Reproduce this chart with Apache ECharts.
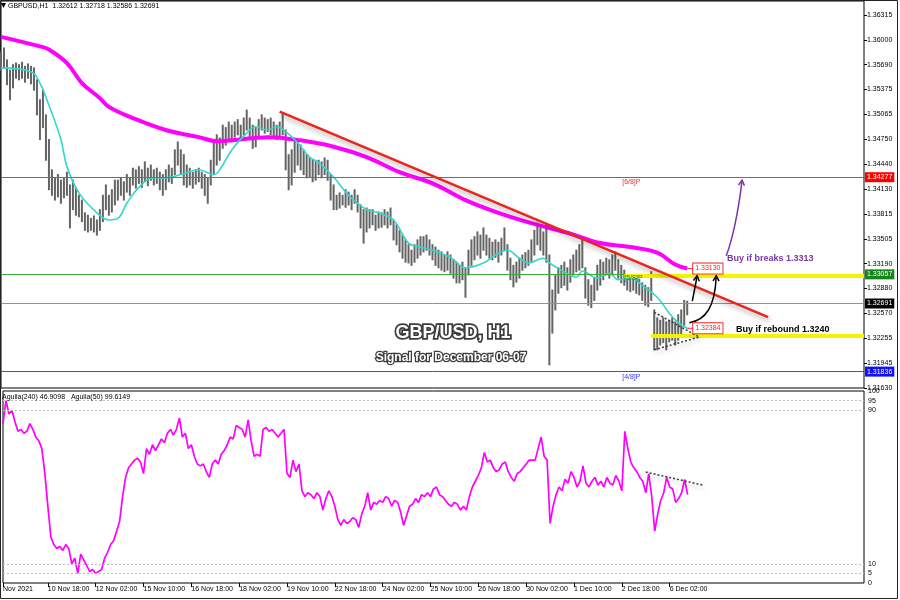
<!DOCTYPE html>
<html><head><meta charset="utf-8">
<script src="https://cdn.jsdelivr.net/npm/echarts@6/dist/echarts.min.js"></script>
<style>html,body{margin:0;padding:0;background:#fff}#c{width:900px;height:600px}</style>
</head><body><div id="c"></div>
<script>
// ---- data (2-hour slots) ----
const barHigh = [
1.3585,1.3590,1.3575,1.3562,1.3569,1.3571,1.3569,1.3572,1.3567,1.3570,
1.3567,1.3565,1.3550,1.3525,1.3537,1.3506,1.3475,1.3437,1.3427,1.3431,
1.3424,1.3427,1.3434,1.3418,1.3424,1.3415,1.3405,1.3399,1.3383,1.3380,
1.3376,1.3379,1.3374,1.3387,1.3405,1.3418,1.3405,1.3412,1.3424,1.3424,
1.3427,1.3422,1.3431,1.3427,1.3439,1.3437,1.3441,1.3437,1.3447,1.3439,
1.3443,1.3437,1.3439,1.3434,1.3431,1.3437,1.3443,1.3439,1.3462,1.3472,
1.3462,1.3456,1.3443,1.3439,1.3434,1.3437,1.3439,1.3434,1.3431,1.3427,
1.3449,1.3475,1.3481,1.3477,1.3493,1.3490,1.3497,1.3493,1.3497,1.3500,
1.3493,1.3502,1.3512,1.3502,1.3493,1.3490,1.3500,1.3506,1.3502,1.3500,
1.3502,1.3497,1.3493,1.3497,1.3508,1.3487,1.3456,1.3462,1.3475,1.3475,
1.3468,1.3462,1.3456,1.3452,1.3449,1.3447,1.3449,1.3447,1.3452,1.3449,
1.3431,1.3418,1.3405,1.3408,1.3405,1.3412,1.3409,1.3405,1.3412,1.3405,
1.3393,1.3387,1.3389,1.3387,1.3387,1.3380,1.3384,1.3383,1.3387,1.3384,
1.3389,1.3374,1.3368,1.3361,1.3355,1.3349,1.3343,1.3336,1.3343,1.3349,
1.3353,1.3353,1.3355,1.3349,1.3343,1.3340,1.3336,1.3334,1.3330,1.3334,
1.3330,1.3324,1.3321,1.3317,1.3321,1.3314,1.3336,1.3349,1.3353,1.3359,
1.3355,1.3364,1.3355,1.3351,1.3346,1.3349,1.3346,1.3351,1.3364,1.3343,
1.3326,1.3317,1.3321,1.3326,1.3330,1.3333,1.3336,1.3349,1.3361,1.3370,
1.3364,1.3359,1.3368,1.3330,1.3286,1.3305,1.3314,1.3317,1.3321,1.3314,
1.3324,1.3330,1.3336,1.3343,1.3353,1.3314,1.3299,1.3292,1.3301,1.3317,
1.3324,1.3321,1.3326,1.3324,1.3330,1.3334,1.3324,1.3317,1.3311,1.3305,
1.3301,1.3305,1.3301,1.3299,1.3295,1.3292,1.3289,1.3309,1.3261,1.3251,
1.3248,1.3251,1.3246,1.3248,1.3251,1.3246,1.3255,1.3261,1.3273,1.3272];
const barLow = [
1.3562,1.3565,1.3544,1.3525,1.3540,1.3552,1.3550,1.3552,1.3547,1.3552,
1.3545,1.3537,1.3506,1.3475,1.3490,1.3449,1.3412,1.3405,1.3399,1.3403,
1.3395,1.3402,1.3405,1.3364,1.3387,1.3380,1.3378,1.3372,1.3361,1.3359,
1.3361,1.3359,1.3355,1.3361,1.3372,1.3387,1.3380,1.3384,1.3393,1.3399,
1.3405,1.3399,1.3409,1.3405,1.3418,1.3414,1.3420,1.3415,1.3422,1.3417,
1.3424,1.3418,1.3420,1.3412,1.3405,1.3412,1.3422,1.3420,1.3431,1.3443,
1.3431,1.3418,1.3415,1.3418,1.3414,1.3419,1.3422,1.3414,1.3405,1.3395,
1.3418,1.3431,1.3443,1.3449,1.3464,1.3468,1.3475,1.3472,1.3478,1.3481,
1.3475,1.3481,1.3487,1.3475,1.3464,1.3466,1.3477,1.3487,1.3483,1.3485,
1.3481,1.3478,1.3475,1.3477,1.3481,1.3437,1.3412,1.3418,1.3434,1.3443,
1.3437,1.3431,1.3427,1.3428,1.3422,1.3424,1.3431,1.3427,1.3431,1.3424,
1.3399,1.3387,1.3387,1.3389,1.3393,1.3390,1.3393,1.3387,1.3395,1.3384,
1.3364,1.3345,1.3359,1.3364,1.3368,1.3361,1.3364,1.3365,1.3368,1.3364,
1.3368,1.3349,1.3343,1.3334,1.3326,1.3321,1.3320,1.3317,1.3321,1.3326,
1.3330,1.3334,1.3336,1.3330,1.3324,1.3317,1.3314,1.3311,1.3309,1.3311,
1.3307,1.3301,1.3295,1.3295,1.3299,1.3277,1.3305,1.3317,1.3324,1.3330,
1.3326,1.3336,1.3330,1.3326,1.3324,1.3327,1.3321,1.3330,1.3336,1.3311,
1.3299,1.3290,1.3296,1.3301,1.3311,1.3314,1.3317,1.3321,1.3330,1.3343,
1.3336,1.3330,1.3321,1.3192,1.3232,1.3261,1.3282,1.3289,1.3292,1.3286,
1.3296,1.3305,1.3309,1.3311,1.3314,1.3276,1.3267,1.3264,1.3273,1.3286,
1.3292,1.3299,1.3305,1.3301,1.3305,1.3311,1.3301,1.3295,1.3292,1.3286,
1.3284,1.3286,1.3282,1.3280,1.3273,1.3267,1.3265,1.3273,1.3211,1.3211,
1.3217,1.3220,1.3211,1.3221,1.3223,1.3217,1.3223,1.3229,1.3242,1.3255];
const ma50 = [[0,1.3565],[10,1.3560],[13,1.3546],[16,1.3518],[20,1.3475],[22,1.3441],[26,1.3408],[32,1.3383],[36,1.3374],[39,1.3376],[42,1.3395],[46,1.3415],[51,1.3427],[55,1.3427],[60,1.3431],[66,1.3437],[71,1.3431],[73,1.3437],[77,1.3462],[82,1.3483],[85,1.3491],[89,1.3487],[92,1.3491],[95,1.3485],[99,1.3471],[103,1.3453],[106,1.3446],[111,1.3428],[116,1.3405],[122,1.3387],[126,1.3383],[131,1.3374],[136,1.3345],[140,1.3340],[144,1.3336],[150,1.3327],[155,1.3314],[161,1.3320],[165,1.3330],[169,1.3336],[173,1.3326],[176,1.3320],[181,1.3326],[183,1.3320],[187,1.3311],[192,1.3302],[194,1.3310],[199,1.3301],[203,1.3307],[206,1.3299],[210,1.3301],[214,1.3292],[219,1.3277],[223,1.3257],[226,1.3245],[229,1.3238]];
const ma240 = [[0,1.3604],[13,1.3592],[16,1.3588],[22,1.3571],[27,1.3546],[33,1.3527],[36,1.3516],[44,1.3502],[55,1.3487],[66,1.3478],[72,1.3473],[77,1.3474],[89,1.3478],[100,1.3474],[111,1.3466],[122,1.3453],[133,1.3434],[144,1.3420],[155,1.3399],[166,1.3383],[177,1.3370],[189,1.3358],[200,1.3345],[210,1.3340],[219,1.3333],[225,1.3318],[229,1.3313]];
const aguila = [
83,95,88,90,84,79,80,78,79,83, 80,76,74,70,57,40,24,20,18,19,
17,20,18,10,13,5,15,12,9,6, 7,5,6,7,13,16,20,22,27,32,
45,55,60,62,64,65,63,57,70,67, 72,69,72,75,73,78,80,77,80,86,
76,78,70,72,66,62,61,62,58,55, 62,64,62,67,69,72,76,75,82,81,
80,76,85,74,66,67,66,80,81,79, 80,78,76,78,80,57,55,64,58,62,
48,45,47,46,44,47,45,38,44,48, 45,40,33,30,33,31,32,34,33,29,
36,40,47,38,42,41,43,42,45,44, 40,43,42,37,30,35,40,41,44,42,
46,45,47,45,49,50,46,45,43,41, 40,42,41,38,40,38,45,50,53,56,
60,68,63,64,60,58,59,62,63,58, 55,53,57,58,60,62,64,64,64,70,
76,66,64,31,40,46,50,48,54,52, 58,55,50,53,61,52,50,53,55,51,
53,50,55,52,51,56,53,48,79,70, 63,60,58,55,53,47,57,45,27,36,
43,47,55,50,49,42,44,47,54,46];
const priceTicks = ['1.31630','1.31945','1.32255','1.32570','1.32880','1.33190','1.33505','1.33815','1.34130','1.34440','1.34750','1.35065','1.35375','1.35690','1.36000','1.36315'];
const lowerTicks = [0,5,10,90,95,100];
const xTickSlots = [0,15,31,47,63,79,95,111,127,143,159,175,191,207,223];
const xTickLabels = ['Nov 2021','10 Nov 18:00','12 Nov 02:00','15 Nov 10:00','16 Nov 18:00','18 Nov 02:00','19 Nov 10:00','22 Nov 18:00','24 Nov 02:00','25 Nov 10:00','26 Nov 18:00','30 Nov 02:00','1 Dec 10:00','2 Dec 18:00','6 Dec 02:00'];
const levelValues = [1.34277, 1.33057, 1.32691, 1.31836];
const levelTexts = ['1.34277','1.33057','1.32691','1.31836'];
const trendLine = [[93,1.3510],[256,1.3252]];
const yellowBands = [[[208,1.3304],[288,1.3304]],[[217,1.3228],[288,1.3228]]];
const triangleLines = [[[218,1.3258],[233,1.3227]],[[218,1.3211],[233,1.3227]]];
const aguilaTrend = [[215,57.8],[234,51]];
const headerText = 'GBPUSD,H1  1.32612 1.32718 1.32586 1.32691';
const lowerHeader = 'Aguila(240) 46.9098   Aguila(50) 99.6149';

// ---- chart ----
const SLOTS = 289;
const slotIdx = Array.from({length: SLOTS}, (_, i) => String(i));
const PMIN = 1.3163, PMAX = 1.3649, PSTEP = (1.36315 - 1.3163) / 15;
const FONT = 'Liberation Sans';
const chart = echarts.init(document.getElementById('c'));
const isTick = (i) => xTickSlots.indexOf(i) >= 0;

const levelColors = ['#ff3030', '#3aae3a', '#8a8ac8', '#4444ff'];
const levelBg = ['#ff0000', '#14861a', '#000000', '#1010ff'];

const levelLines = levelValues.map((v, k) => ([
  {coord: [0, v], lineStyle: {color: levelColors[k], width: 1, type: 'solid'},
   label: {show: true, position: 'end', distance: 1, formatter: levelTexts[k], color: '#fff',
           backgroundColor: levelBg[k], padding: [2, 2, 1, 2], fontSize: 7, fontFamily: FONT}},
  {coord: [SLOTS - 1, v]}
]));
const shadowStyle = {shadowColor: 'rgba(0,0,0,0.35)', shadowBlur: 5, shadowOffsetY: 3, shadowOffsetX: 1};
const segLines = [];
yellowBands.forEach(b => segLines.push([{coord: b[0], lineStyle: {color: '#f4f400', width: 4, type: 'solid'}, label: {show: false}}, {coord: b[1]}]));
segLines.push([{coord: trendLine[0], lineStyle: Object.assign({color: '#e8261e', width: 2.5, type: 'solid'}, shadowStyle), label: {show: false}}, {coord: trendLine[1]}]);
triangleLines.forEach(t => segLines.push([{coord: t[0], lineStyle: Object.assign({color: '#3a3a3a', width: 1.5, type: [2, 2]}, shadowStyle), label: {show: false}}, {coord: t[1]}]));

const option = {
  animation: false,
  backgroundColor: '#fff',
  textStyle: {fontFamily: FONT},
  grid: [
    {left: 1, top: 1, width: 863, height: 387, show: true, borderColor: '#000', borderWidth: 1, backgroundColor: '#fff'},
    {left: 1, top: 391, width: 863, height: 192, show: true, borderColor: '#000', borderWidth: 1, backgroundColor: '#fff'}
  ],
  xAxis: [
    {type: 'category', gridIndex: 0, data: slotIdx, boundaryGap: false, show: false},
    {type: 'category', gridIndex: 1, data: slotIdx, boundaryGap: false,
     axisLine: {show: false},
     axisTick: {show: true, interval: (i) => isTick(i), length: 4, lineStyle: {color: '#000'}},
     axisLabel: {interval: (i) => isTick(i), formatter: (v, i) => { const k = xTickSlots.indexOf(i); return k >= 0 ? xTickLabels[k] : ''; },
                 align: 'left', fontSize: 7, color: '#000', margin: 3, fontFamily: FONT},
     splitLine: {show: false}}
  ],
  yAxis: [
    {type: 'value', gridIndex: 0, position: 'right', min: PMIN, max: PMAX, interval: PSTEP, scale: true,
     splitLine: {show: false}, axisLine: {show: false},
     axisTick: {show: true, length: 3, lineStyle: {color: '#000'}},
     axisLabel: {fontSize: 7, color: '#000', margin: 3, fontFamily: FONT, showMaxLabel: false,
                 formatter: (v) => { const k = Math.round((v - PMIN) / PSTEP); return (Math.abs(v - (PMIN + k * PSTEP)) < 1e-6 && priceTicks[k]) ? priceTicks[k] : ''; }}},
    {type: 'value', gridIndex: 1, position: 'right', min: 0, max: 100, interval: 5,
     splitLine: {show: false}, axisLine: {show: false}, axisTick: {show: false},
     axisLabel: {fontSize: 7, color: '#000', margin: 4, fontFamily: FONT,
                 formatter: (v) => lowerTicks.indexOf(v) >= 0 ? String(v) : ''}}
  ],
  series: [
    {type: 'custom', name: 'GBPUSD', xAxisIndex: 0, yAxisIndex: 0, silent: true, z: 2,
     data: barHigh.map((h, i) => [i, barLow[i], h]),
     encode: {x: 0, y: [1, 2]},
     renderItem: (params, api) => {
       const a = api.coord([api.value(0), api.value(1)]);
       const b = api.coord([api.value(0), api.value(2)]);
       return {type: 'line', shape: {x1: a[0], y1: a[1] + 0.5, x2: b[0], y2: b[1] - 0.5},
               style: {stroke: '#646464', lineWidth: 2}};
     },
     markLine: {silent: true, precision: 6, symbol: ['none', 'none'], data: levelLines.concat(segLines)}},
    {type: 'line', name: 'MA240', xAxisIndex: 0, yAxisIndex: 0, data: ma240, showSymbol: false, smooth: 0.4,
     lineStyle: {color: '#ff00ff', width: 4}, silent: true, z: 3},
    {type: 'line', name: 'MA50', xAxisIndex: 0, yAxisIndex: 0, data: ma50, showSymbol: false, smooth: 0.4,
     lineStyle: {color: '#30d8cc', width: 1.6}, silent: true, z: 3},
    {type: 'line', name: 'Aguila', xAxisIndex: 1, yAxisIndex: 1, data: aguila, showSymbol: false,
     lineStyle: {color: '#ff00ff', width: 1.7}, silent: true, z: 3,
     markLine: {silent: true, precision: 4, symbol: ['none', 'none'], label: {show: false},
       data: [5, 10, 90, 95].map(v => ([{coord: [0, v], lineStyle: {color: '#bdbdbd', width: 1, type: [2, 2]}}, {coord: [SLOTS - 1, v]}]))
         .concat([[{coord: aguilaTrend[0], lineStyle: Object.assign({color: '#3a3a3a', width: 1.5, type: [2, 2]}, shadowStyle)}, {coord: aguilaTrend[1]}]])}}
  ]
};
chart.setOption(option);

// ---- annotations (positions given in data coordinates, converted with the chart's own scales) ----
function px(i, p) {
  const i0 = Math.floor(i), t = i - i0;
  const a = chart.convertToPixel({gridIndex: 0}, [i0, p]);
  const b = chart.convertToPixel({gridIndex: 0}, [i0 + 1, p]);
  return [a[0] + (b[0] - a[0]) * t, a[1]];
}
function head(tip, from, size) {
  const ang = Math.atan2(tip[1] - from[1], tip[0] - from[0]);
  const a1 = ang + Math.PI * 5 / 6, a2 = ang - Math.PI * 5 / 6;
  return [[tip[0] + size * Math.cos(a1), tip[1] + size * Math.sin(a1)], tip, [tip[0] + size * Math.cos(a2), tip[1] + size * Math.sin(a2)]];
}
const arrows = [
  {pts: [[242, 1.3329], [243.7, 1.3345], [246, 1.3380], [247.3, 1.3424]], color: '#7a36a6'},
  {pts: [[230.7, 1.3272], [231.3, 1.3284], [232, 1.3296], [232.3, 1.3304]], color: '#000'},
  {pts: [[229.7, 1.3245], [235, 1.3248], [238.3, 1.3264], [238.7, 1.3304]], color: '#000'}
];
const boxes = [{text: '1.33130', from: [229, 1.3313], at: [231, 1.3313]}, {text: '1.32384', from: [229, 1.3238], at: [231, 1.3238]}];
const notes = [
  {text: 'Buy if breaks 1.3313', at: [242.3, 1.3325], color: '#7a36a6', font: 'bold 9px "Liberation Sans"'},
  {text: 'Buy if rebound 1.3240', at: [245.3, 1.3236], color: '#000', font: 'bold 9px "Liberation Sans"'},
  {text: '[6/8]P', at: [207.3, 1.3421], color: '#ff2a2a', font: '7px "Liberation Sans"'},
  {text: '[5/8]P', at: [208, 1.3301], color: '#1a8a1a', font: '7px "Liberation Sans"'},
  {text: '[4/8]P', at: [207.3, 1.3177], color: '#3535ff', font: '7px "Liberation Sans"'}
];
const g = [];
arrows.forEach(a => {
  const p = a.pts.map(q => px(q[0], q[1]));
  g.push({type: 'bezierCurve', silent: true, z: 20, shape: {x1: p[0][0], y1: p[0][1], cpx1: p[1][0], cpy1: p[1][1], cpx2: p[2][0], cpy2: p[2][1], x2: p[3][0], y2: p[3][1]},
          style: {stroke: a.color, lineWidth: 1.5, fill: null}});
  g.push({type: 'polyline', silent: true, z: 20, shape: {points: head(p[3], p[2], 6)}, style: {stroke: a.color, lineWidth: 1.5, fill: null}});
});
boxes.forEach(b => {
  const f = px(b.from[0], b.from[1]), t = px(b.at[0], b.at[1]);
  g.push({type: 'line', silent: true, z: 20, shape: {x1: f[0], y1: f[1], x2: t[0], y2: t[1]}, style: {stroke: '#ff2a2a', lineWidth: 1}});
  g.push({type: 'text', silent: true, z: 21, x: t[0], y: t[1], style: {text: b.text, fill: '#ff2020', font: '7px "Liberation Sans"',
          verticalAlign: 'middle', align: 'left', backgroundColor: '#fff', borderColor: '#ff2a2a', borderWidth: 1, padding: [2, 2, 1, 2]}});
});
notes.forEach(n => {
  const t = px(n.at[0], n.at[1]);
  g.push({type: 'text', silent: true, z: 21, x: t[0], y: t[1], style: {text: n.text, fill: n.color, font: n.font, verticalAlign: 'middle', align: 'left'}});
});
// header texts and chart title
g.push({type: 'polygon', silent: true, z: 21, shape: {points: [[1, 3], [6, 3], [3.5, 8]]}, style: {fill: '#000'}});
g.push({type: 'text', silent: true, z: 21, x: 8, y: 6, style: {text: headerText, fill: '#000', font: '7px "Liberation Sans"', verticalAlign: 'middle'}});
g.push({type: 'text', silent: true, z: 21, x: 2, y: 397, style: {text: lowerHeader, fill: '#000', font: '7px "Liberation Sans"', verticalAlign: 'middle'}});
const titleStyle = {fill: '#fff', stroke: '#3c3c3c', lineWidth: 3.5, strokeFirst: true, align: 'center', verticalAlign: 'middle',
                    shadowColor: 'rgba(0,0,0,0.6)', shadowBlur: 3, shadowOffsetX: 1, shadowOffsetY: 2};
g.push({type: 'text', silent: true, z: 22, x: 453, y: 333, style: Object.assign({text: 'GBP/USD, H1', font: 'bold 18px "Liberation Sans"'}, titleStyle)});
g.push({type: 'text', silent: true, z: 22, x: 451, y: 358, style: Object.assign({text: 'Signal for December 06-07', font: 'bold 12px "Liberation Sans"'}, titleStyle, {lineWidth: 2.5})});
g.push({type: 'rect', silent: true, z: 0, shape: {x: 0.5, y: 0.5, width: 897, height: 598}, style: {fill: null, stroke: '#222', lineWidth: 1}});
chart.setOption({graphic: g});
</script>
</body></html>
